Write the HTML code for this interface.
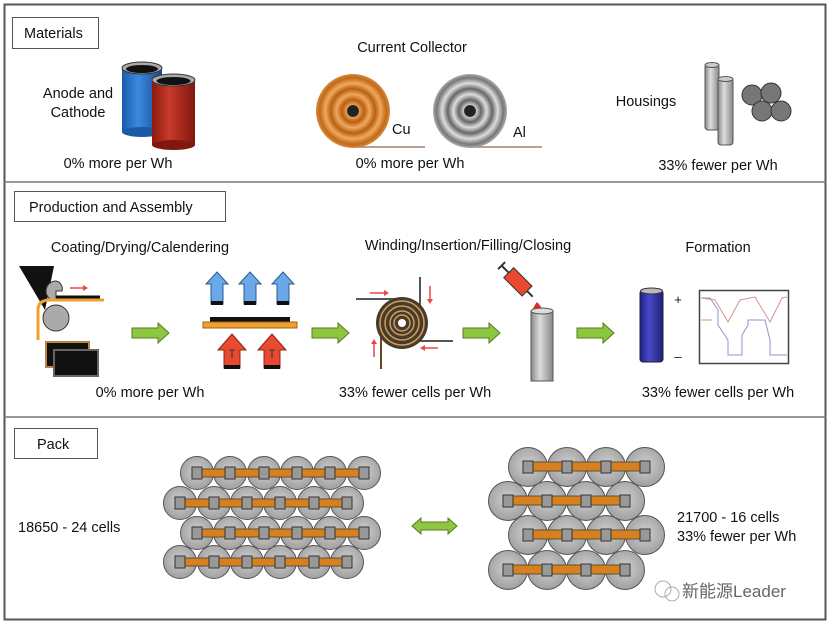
<!DOCTYPE html>
<html><head><meta charset="utf-8"><style>
body{margin:0;background:#fff}
svg{display:block}
text{font-family:"Liberation Sans","Noto Sans CJK SC",sans-serif;fill:#111}
</style></head><body>
<svg width="831" height="626" viewBox="0 0 831 626" xmlns="http://www.w3.org/2000/svg">
<defs>
<radialGradient id="cu" cx="50%" cy="50%" r="50%">
<stop offset="0" stop-color="#222"/><stop offset="0.15" stop-color="#222"/><stop offset="0.17" stop-color="#e8a050"/>
<stop offset="0.3" stop-color="#b8600f"/><stop offset="0.45" stop-color="#f0a860"/><stop offset="0.6" stop-color="#b8600f"/>
<stop offset="0.75" stop-color="#f0a860"/><stop offset="0.9" stop-color="#c06a18"/><stop offset="1" stop-color="#d88a3a"/>
</radialGradient>
<radialGradient id="al" cx="50%" cy="50%" r="50%">
<stop offset="0" stop-color="#222"/><stop offset="0.15" stop-color="#222"/><stop offset="0.17" stop-color="#ccc"/>
<stop offset="0.3" stop-color="#666"/><stop offset="0.45" stop-color="#ddd"/><stop offset="0.6" stop-color="#666"/>
<stop offset="0.75" stop-color="#ddd"/><stop offset="0.9" stop-color="#777"/><stop offset="1" stop-color="#aaa"/>
</radialGradient>
<radialGradient id="cell" cx="50%" cy="45%" r="55%">
<stop offset="0" stop-color="#d0d0d0"/><stop offset="1" stop-color="#a0a0a0"/>
</radialGradient>
<linearGradient id="tube" x1="0" x2="1"><stop offset="0" stop-color="#888"/><stop offset="0.4" stop-color="#ddd"/><stop offset="1" stop-color="#888"/></linearGradient>
<linearGradient id="blue" x1="0" x2="1"><stop offset="0" stop-color="#1a5aa8"/><stop offset="0.4" stop-color="#3a8ae0"/><stop offset="1" stop-color="#1a4a90"/></linearGradient>
<linearGradient id="red" x1="0" x2="1"><stop offset="0" stop-color="#8a1a10"/><stop offset="0.4" stop-color="#c83a2a"/><stop offset="1" stop-color="#801810"/></linearGradient>
<linearGradient id="navy" x1="0" x2="1"><stop offset="0" stop-color="#20208a"/><stop offset="0.4" stop-color="#4a4ac8"/><stop offset="1" stop-color="#20207a"/></linearGradient>
<g id="c1"><circle r="16.5" fill="url(#cell)" stroke="#555" stroke-width="1"/></g>
<g id="s1"><rect x="-5" y="-6" width="10" height="12" fill="#999" stroke="#333"/></g>
<g id="c2"><circle r="19.5" fill="url(#cell)" stroke="#555" stroke-width="1"/></g>
<g id="ga"><path d="M0,-5 H26 V-10 L37,0 L26,10 V5 H0 Z" fill="#8dc63f" stroke="#5a7a20"/></g>
<g id="ba"><path d="M-6,20 V0 H-11 L0,-12 L11,0 H6 V20 Z" fill="#6aa8e8" stroke="#2a5a90"/><rect x="-6" y="17" width="12" height="4" fill="#111"/></g>
<g id="ra"><path d="M-8,22 V4 H-14 L0,-12 L14,4 H8 V22 Z" fill="#e84a30" stroke="#902010"/><rect x="-8" y="19" width="16" height="4" fill="#111"/><path d="M-3,4 H3 M0,4 V12" stroke="#333"/></g>
</defs>

<rect x="4.5" y="4.5" width="821" height="615" fill="#fff" stroke="#555" stroke-width="2"/>
<line x1="4" y1="182" x2="826" y2="182" stroke="#777" stroke-width="1.5"/>
<line x1="4" y1="417" x2="826" y2="417" stroke="#777" stroke-width="1.5"/>

<rect x="12.5" y="17.5" width="86" height="31" fill="#fff" stroke="#555"/>
<text x="24" y="38" font-size="14.5">Materials</text>
<text x="412" y="52" font-size="14.5" text-anchor="middle">Current Collector</text>
<text x="78" y="98" font-size="14.5" text-anchor="middle">Anode and</text>
<text x="78" y="117" font-size="14.5" text-anchor="middle">Cathode</text>
<rect x="122" y="68" width="40" height="64" fill="url(#blue)"/>
<ellipse cx="142" cy="132" rx="20" ry="5" fill="#1a5aa8"/>
<ellipse cx="142" cy="68" rx="20" ry="6" fill="#aaa" stroke="#333"/><ellipse cx="142" cy="69" rx="16" ry="4" fill="#111"/>
<rect x="152" y="80" width="43" height="65" fill="url(#red)"/>
<ellipse cx="173.5" cy="145" rx="21.5" ry="5" fill="#801810"/>
<ellipse cx="173.5" cy="80" rx="21.5" ry="6" fill="#aaa" stroke="#333"/><ellipse cx="173.5" cy="81" rx="17" ry="4" fill="#111"/>
<text x="118" y="168" font-size="14.5" text-anchor="middle">0% more per Wh</text>

<line x1="353" y1="147" x2="425" y2="147" stroke="#a08070" stroke-width="1.5"/>
<circle cx="353" cy="111" r="37" fill="url(#cu)"/>
<text x="392" y="134" font-size="14.5">Cu</text>
<line x1="470" y1="147" x2="542" y2="147" stroke="#a08070" stroke-width="1.5"/>
<circle cx="470" cy="111" r="37" fill="url(#al)"/>
<text x="513" y="137" font-size="14.5">Al</text>
<text x="410" y="168" font-size="14.5" text-anchor="middle">0% more per Wh</text>

<text x="646" y="106" font-size="14.5" text-anchor="middle">Housings</text>
<rect x="705" y="64" width="14" height="66" rx="3" fill="url(#tube)" stroke="#555"/>
<ellipse cx="712" cy="65" rx="7" ry="2.5" fill="#ccc" stroke="#555"/>
<rect x="718" y="78" width="15" height="67" rx="3" fill="url(#tube)" stroke="#555"/>
<ellipse cx="725.5" cy="79" rx="7.5" ry="2.5" fill="#ccc" stroke="#555"/>
<g fill="#777" stroke="#333"><circle cx="752" cy="95" r="10"/><circle cx="771" cy="93" r="10"/><circle cx="762" cy="111" r="10"/><circle cx="781" cy="111" r="10"/></g>
<text x="718" y="170" font-size="14.5" text-anchor="middle">33% fewer per Wh</text>

<rect x="14.5" y="191.5" width="211" height="30" fill="#fff" stroke="#555"/>
<text x="29" y="212" font-size="14.5">Production and Assembly</text>
<text x="140" y="252" font-size="14.5" text-anchor="middle">Coating/Drying/Calendering</text>
<text x="468" y="250" font-size="14.5" text-anchor="middle">Winding/Insertion/Filling/Closing</text>
<text x="718" y="252" font-size="14.5" text-anchor="middle">Formation</text>

<path d="M19,266 L54,266 L45,310 Z" fill="#111"/>
<path d="M56,281 A10,10 0 1,0 56,301 V291 H62 A8,8 0 0,0 56,281Z" fill="#aaa" stroke="#333"/>
<line x1="56" y1="297" x2="100" y2="297" stroke="#111" stroke-width="3"/>
<path d="M38,340 V310 Q38,300 50,300 H104" fill="none" stroke="#f0a030" stroke-width="3"/>
<circle cx="56" cy="318" r="13" fill="#aaa" stroke="#333"/>
<path d="M70,288 H83" stroke="#e44" stroke-width="1.5"/><path d="M83,285 L88,288 L83,291Z" fill="#e44"/>
<rect x="46" y="342" width="43" height="25" fill="#111" stroke="#c08040" stroke-width="2"/>
<rect x="54" y="350" width="44" height="26" fill="#111" stroke="#666" stroke-width="2"/>
<use href="#ga" x="132" y="333"/>
<use href="#ba" x="217" y="284"/><use href="#ba" x="250" y="284"/><use href="#ba" x="283" y="284"/>
<rect x="210" y="317" width="80" height="5" fill="#111"/>
<rect x="203" y="322" width="94" height="6" fill="#f0a030" stroke="#a06010"/>
<use href="#ra" x="232" y="346"/><use href="#ra" x="272" y="346"/>
<text x="150" y="397" font-size="14.5" text-anchor="middle">0% more per Wh</text>

<use href="#ga" x="312" y="333"/>
<line x1="356" y1="299" x2="398" y2="299" stroke="#555" stroke-width="2"/>
<line x1="420" y1="277" x2="420" y2="322" stroke="#555" stroke-width="2"/>
<line x1="410" y1="341" x2="453" y2="341" stroke="#555" stroke-width="2"/>
<line x1="381" y1="335" x2="381" y2="369" stroke="#6a4a20" stroke-width="2"/>
<circle cx="402" cy="323" r="26" fill="#4a3a2a"/>
<g fill="none" stroke="#c8a060" stroke-width="1.5"><circle cx="402" cy="323" r="22"/><circle cx="402" cy="323" r="17"/><circle cx="402" cy="323" r="12"/><circle cx="402" cy="323" r="8"/></g>
<circle cx="402" cy="323" r="4" fill="#fff"/>
<g stroke="#e44" stroke-width="1.5" fill="#e44">
<line x1="370" y1="293" x2="384" y2="293"/><path d="M384,290 L389,293 L384,296Z" stroke="none"/>
<line x1="430" y1="286" x2="430" y2="299"/><path d="M427,299 L430,304 L433,299Z" stroke="none"/>
<line x1="425" y1="348" x2="438" y2="348"/><path d="M425,345 L420,348 L425,351Z" stroke="none"/>
<line x1="374" y1="357" x2="374" y2="344"/><path d="M371,344 L374,339 L377,344Z" stroke="none"/></g>
<text x="415" y="397" font-size="14.5" text-anchor="middle">33% fewer cells per Wh</text>

<use href="#ga" x="463" y="333"/>
<g transform="translate(520,284) rotate(45)"><rect x="-16" y="-7" width="26" height="14" fill="#e84a30" stroke="#333"/><line x1="-26" y1="0" x2="-16" y2="0" stroke="#333" stroke-width="2"/><line x1="-26" y1="-5" x2="-26" y2="5" stroke="#333" stroke-width="2"/><line x1="10" y1="0" x2="18" y2="0" stroke="#333" stroke-width="2"/></g>
<path d="M537,302 Q531,310 533,313 A5,5 0 0,0 542,312 Q543,308 537,302Z" fill="#d83020"/>
<rect x="531" y="311" width="22" height="70" fill="url(#tube)" stroke="#555"/>
<ellipse cx="542" cy="311" rx="11" ry="3" fill="#ddd" stroke="#555"/>

<use href="#ga" x="577" y="333"/>
<rect x="640" y="290" width="23" height="72" rx="3" fill="url(#navy)" stroke="#222"/>
<ellipse cx="651.5" cy="291" rx="11" ry="3" fill="#bbb" stroke="#333"/>
<text x="678" y="304" font-size="13" text-anchor="middle">+</text>
<text x="678" y="361" font-size="13" text-anchor="middle">–</text>
<rect x="699.5" y="290.5" width="89" height="73" fill="#fff" stroke="#444" stroke-width="1.5"/>
<path d="M701,298 H710 L718,310 V325 L728,340 V355 H742 V335 L748,325 V320 H765 L770,340 V355 H787" fill="none" stroke="#9090d0"/>
<path d="M701,320 H712 M701,298 L715,300 L728,322 L740,300 L755,297 L770,322 L782,298 L787,297" fill="none" stroke="#d89090"/>
<text x="718" y="397" font-size="14.5" text-anchor="middle">33% fewer cells per Wh</text>

<rect x="14.5" y="428.5" width="83" height="30" fill="#fff" stroke="#555"/>
<text x="37" y="449" font-size="14.5">Pack</text>
<text x="18" y="532" font-size="14.5">18650 - 24 cells</text>
<text x="677" y="522" font-size="14.5">21700 - 16 cells</text>
<text x="677" y="541" font-size="14.5">33% fewer per Wh</text>
<path d="M412,526 L421,518 V522 H448 V518 L457,526 L448,534 V530 H421 V534 Z" fill="#8dc63f" stroke="#5a7a20"/>

<g>
<use href="#c1" x="197" y="473"/><use href="#c1" x="230" y="473"/><use href="#c1" x="264" y="473"/><use href="#c1" x="297" y="473"/><use href="#c1" x="330" y="473"/><use href="#c1" x="364" y="473"/>
<rect x="197" y="469" width="167" height="8" fill="#d88020" stroke="#553"/>
<use href="#s1" x="197" y="473"/><use href="#s1" x="230" y="473"/><use href="#s1" x="264" y="473"/><use href="#s1" x="297" y="473"/><use href="#s1" x="330" y="473"/><use href="#s1" x="364" y="473"/>
<use href="#c1" x="180" y="503"/><use href="#c1" x="214" y="503"/><use href="#c1" x="247" y="503"/><use href="#c1" x="280" y="503"/><use href="#c1" x="314" y="503"/><use href="#c1" x="347" y="503"/>
<rect x="180" y="499" width="167" height="8" fill="#d88020" stroke="#553"/>
<use href="#s1" x="180" y="503"/><use href="#s1" x="214" y="503"/><use href="#s1" x="247" y="503"/><use href="#s1" x="280" y="503"/><use href="#s1" x="314" y="503"/><use href="#s1" x="347" y="503"/>
<use href="#c1" x="197" y="533"/><use href="#c1" x="230" y="533"/><use href="#c1" x="264" y="533"/><use href="#c1" x="297" y="533"/><use href="#c1" x="330" y="533"/><use href="#c1" x="364" y="533"/>
<rect x="197" y="529" width="167" height="8" fill="#d88020" stroke="#553"/>
<use href="#s1" x="197" y="533"/><use href="#s1" x="230" y="533"/><use href="#s1" x="264" y="533"/><use href="#s1" x="297" y="533"/><use href="#s1" x="330" y="533"/><use href="#s1" x="364" y="533"/>
<use href="#c1" x="180" y="562"/><use href="#c1" x="214" y="562"/><use href="#c1" x="247" y="562"/><use href="#c1" x="280" y="562"/><use href="#c1" x="314" y="562"/><use href="#c1" x="347" y="562"/>
<rect x="180" y="558" width="167" height="8" fill="#d88020" stroke="#553"/>
<use href="#s1" x="180" y="562"/><use href="#s1" x="214" y="562"/><use href="#s1" x="247" y="562"/><use href="#s1" x="280" y="562"/><use href="#s1" x="314" y="562"/><use href="#s1" x="347" y="562"/>
</g>

<g>
<use href="#c2" x="528" y="467"/><use href="#c2" x="567" y="467"/><use href="#c2" x="606" y="467"/><use href="#c2" x="645" y="467"/>
<rect x="528" y="462" width="117" height="9" fill="#d88020" stroke="#553"/>
<use href="#s1" x="528" y="467"/><use href="#s1" x="567" y="467"/><use href="#s1" x="606" y="467"/><use href="#s1" x="645" y="467"/>
<use href="#c2" x="508" y="501"/><use href="#c2" x="547" y="501"/><use href="#c2" x="586" y="501"/><use href="#c2" x="625" y="501"/>
<rect x="508" y="496" width="117" height="9" fill="#d88020" stroke="#553"/>
<use href="#s1" x="508" y="501"/><use href="#s1" x="547" y="501"/><use href="#s1" x="586" y="501"/><use href="#s1" x="625" y="501"/>
<use href="#c2" x="528" y="535"/><use href="#c2" x="567" y="535"/><use href="#c2" x="606" y="535"/><use href="#c2" x="645" y="535"/>
<rect x="528" y="530" width="117" height="9" fill="#d88020" stroke="#553"/>
<use href="#s1" x="528" y="535"/><use href="#s1" x="567" y="535"/><use href="#s1" x="606" y="535"/><use href="#s1" x="645" y="535"/>
<use href="#c2" x="508" y="570"/><use href="#c2" x="547" y="570"/><use href="#c2" x="586" y="570"/><use href="#c2" x="625" y="570"/>
<rect x="508" y="565" width="117" height="9" fill="#d88020" stroke="#553"/>
<use href="#s1" x="508" y="570"/><use href="#s1" x="547" y="570"/><use href="#s1" x="586" y="570"/><use href="#s1" x="625" y="570"/>
</g>

<g fill="none" stroke="#aaa" stroke-width="1"><circle cx="663" cy="589" r="8"/><circle cx="672" cy="594" r="7"/></g>
<text x="682" y="597" font-size="17" style="fill:#666">新能源Leader</text>
</svg>
</body></html>
